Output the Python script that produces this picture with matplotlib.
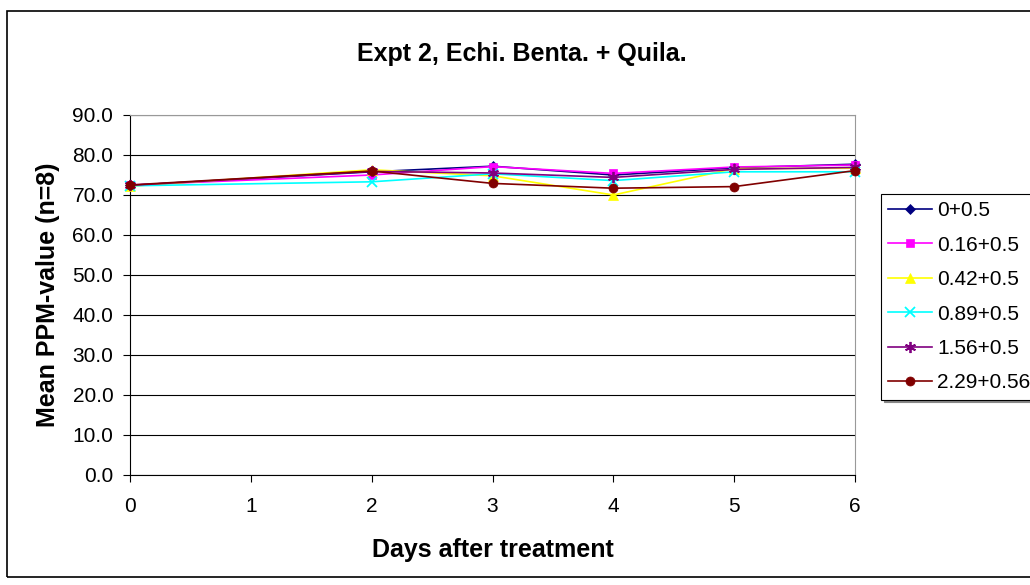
import matplotlib
matplotlib.use('Agg')
from matplotlib import pyplot as plt
from matplotlib.patches import Rectangle

plt.rcParams['font.family'] = ['Liberation Sans', 'DejaVu Sans']

days = [0, 2, 3, 4, 5, 6]
labels = ['0+0.5', '0.16+0.5', '0.42+0.5', '0.89+0.5', '1.56+0.5', '2.29+0.56']
s0 = [72.4, 75.8, 77.2, 75.0, 76.8, 77.7]
s1 = [72.5, 75.0, 77.1, 75.4, 77.0, 77.5]
s2 = [72.2, 76.3, 74.8, 70.0, 76.6, 76.7]
s3 = [72.3, 73.3, 75.3, 73.6, 75.8, 75.8]
s4 = [72.4, 75.9, 75.5, 74.4, 76.4, 76.9]
s5 = [72.5, 76.0, 72.9, 71.7, 72.1, 76.1]
series = [s0, s1, s2, s3, s4, s5]

colors = ['#000080', '#FF00FF', '#FFFF00', '#00FFFF', '#800080', '#800000']
markers = ['D', 's', '^', 'x', (6, 2, 0), 'o']
msizes = [5.5, 6, 7, 7, 8, 6.5]

fig = plt.figure(figsize=(10.3, 5.85), dpi=100)
# outer chart border
fig.patches.append(Rectangle((7 / 1030, 8 / 585), 1.2, 1 - 19 / 585,
                             transform=fig.transFigure, fill=False,
                             edgecolor='black', linewidth=1.2))

ax = fig.add_axes([130 / 1030, 110 / 585, 725 / 1030, 360 / 585])
for y, lab, c, m, ms in zip(series, labels, colors, markers, msizes):
    ax.plot(days, y, color=c, marker=m, markersize=ms, linewidth=1.2,
            markeredgewidth=1.3 if m in ('x', (6, 2, 0)) else 0.5,
            markeredgecolor=c, label=lab, clip_on=False, zorder=3)

ax.set_xlim(0, 6)
ax.set_ylim(0, 90)
ax.set_xticks(range(7))
ax.set_yticks(range(0, 91, 10))
ax.set_yticklabels([f'{v:.1f}' for v in range(0, 91, 10)])
ax.yaxis.grid(True, color='black', linewidth=0.8)
ax.set_axisbelow(True)
ax.tick_params(axis='both', labelsize=15, direction='out', length=5, width=0.8, colors='black')
ax.tick_params(axis='x', pad=11)
ax.tick_params(axis='y', pad=7)
ax.spines['top'].set_color('#999999')
ax.spines['right'].set_color('#999999')
ax.spines['left'].set_color('black')
ax.spines['bottom'].set_color('black')

ax.set_xlabel('Days after treatment', fontsize=18, fontweight='bold', labelpad=16)
ax.set_ylabel('Mean PPM-value (n=8)', fontsize=18, fontweight='bold', labelpad=9)
fig.text(522 / 1030, 1 - 54 / 585, 'Expt 2, Echi. Benta. + Quila.', ha='center',
         va='center', fontsize=18, fontweight='bold')

leg = ax.legend(loc='upper left', bbox_to_anchor=(881 / 1030, 1 - 194 / 585),
                bbox_transform=fig.transFigure, fontsize=15, frameon=True,
                fancybox=False, shadow={'color': '#888888', 'alpha': 1},
                borderpad=0.35, labelspacing=0.74,
                handlelength=2.1, handletextpad=0.25, borderaxespad=0)
leg.get_frame().set_edgecolor('black')
leg.get_frame().set_linewidth(0.8)

plt.savefig('out.png', dpi=100)
